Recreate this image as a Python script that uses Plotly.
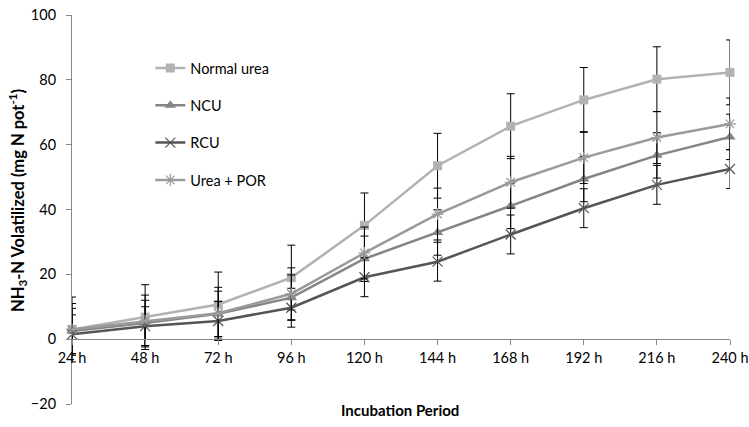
import plotly.graph_objects as go

categories = ["24 h", "48 h", "72 h", "96 h", "120 h", "144 h", "168 h", "192 h", "216 h", "240 h"]

normal_urea = [3.0, 6.8, 10.7, 19.0, 35.1, 53.5, 65.7, 73.8, 80.2, 82.3]
ncu = [2.5, 5.0, 7.8, 12.8, 24.8, 32.9, 41.1, 49.4, 56.7, 62.4]
rcu = [1.5, 4.0, 5.6, 9.7, 19.1, 23.9, 32.3, 40.4, 47.6, 52.5]
urea_por = [3.0, 5.6, 8.0, 14.0, 26.6, 38.6, 48.4, 56.0, 62.2, 66.4]

err_normal_urea = [10] * 10
err_ncu = [7] * 10
err_rcu = [6] * 10
err_urea_por = [8] * 10

series = [
    ("Normal urea", normal_urea, err_normal_urea, "#b2b2b2", "square", 9, 0),
    ("NCU", ncu, err_ncu, "#858585", "triangle-up", 10, 0),
    ("RCU", rcu, err_rcu, "#555555", "x-thin-open", 10, 1.2),
    ("Urea + POR", urea_por, err_urea_por, "#9a9a9a", "asterisk-open", 10, 1.2),
]

FONT = "Lato"
fig = go.Figure()
for i, (name, vals, errs, color, sym, size, lw) in enumerate(series):
    marker = dict(symbol=sym, size=size, color=color)
    if lw:
        marker["line"] = dict(color=color, width=lw)
    fig.add_trace(go.Scatter(
        x=categories, y=vals, name=name, mode="lines+markers",
        line=dict(color=color, width=2.5),
        marker=marker,
        error_y=dict(type="data", array=errs, visible=True, color="#000000", thickness=1, width=4),
        legendgroup=f"g{i}",
        cliponaxis=False,
    ))

fig.update_layout(
    width=749, height=427,
    margin=dict(l=72, r=19, t=15, b=23),
    paper_bgcolor="white", plot_bgcolor="white",
    font=dict(family=FONT, size=14, color="#000000"),
    showlegend=True,
    legend=dict(x=0.119, y=0.905, xanchor="left", yanchor="top",
                bgcolor="rgba(0,0,0,0)", tracegroupgap=15.5,
                font=dict(family=FONT, size=14.5)),
    xaxis=dict(type="category", range=[0, 9], anchor="free", position=20/120,
               showline=True, linecolor="#868686", linewidth=1,
               ticks="outside", ticklen=5, tickcolor="#868686",
               showgrid=False, zeroline=False, automargin=False,
               tickfont=dict(family=FONT, size=14.5)),
    yaxis=dict(range=[-20, 100], dtick=20, showline=True, linecolor="#868686", linewidth=1,
               ticks="outside", ticklen=5, tickcolor="#868686",
               showgrid=False, zeroline=False, ticklabelstandoff=7, automargin=False,
               tickfont=dict(family=FONT, size=14.5)),
    annotations=[
        dict(text="<b>NH<sub>3</sub>-N Volatilized (mg N pot<sup>-1</sup>)</b>",
             xref="paper", yref="paper", x=(18 - 72) / 658, y=(404 - 201) / 389,
             textangle=-90, showarrow=False, xanchor="center", yanchor="middle",
             font=dict(family=FONT, size=16.5)),
        dict(text="<b>Incubation Period</b>",
             xref="paper", yref="paper", x=(400 - 72) / 658, y=(404 - 410) / 389,
             showarrow=False, xanchor="center", yanchor="middle",
             font=dict(family=FONT, size=15)),
    ],
)

fig.write_html("out.html")
